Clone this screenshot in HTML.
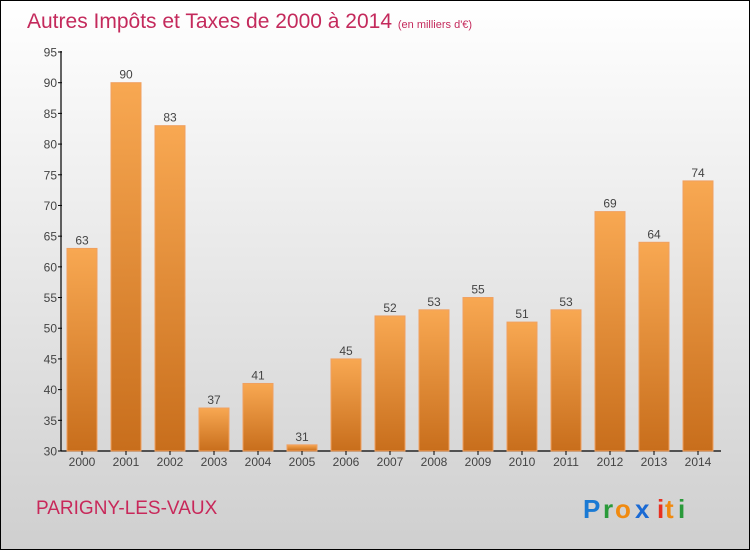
<!DOCTYPE html>
<html><head><meta charset="utf-8"><style>
body{margin:0}
#c{position:relative;width:748px;height:548px;border:1px solid #000;background:linear-gradient(#ffffff,#cfcfcf);font-family:"Liberation Sans",sans-serif;overflow:hidden}
</style></head><body>
<div id="c">
<svg id="s" width="748" height="548" style="position:absolute;left:0;top:0">
<defs><linearGradient id="g" x1="0" y1="0" x2="0" y2="1"><stop offset="0" stop-color="#f8a852"/><stop offset="1" stop-color="#c86e1c"/></linearGradient></defs>
<text x="26" y="27" font-size="21" fill="#c42a5c">Autres Impôts et Taxes de 2000 à 2014 <tspan font-size="11">(en milliers d'€)</tspan></text>
<text x="35" y="513" font-size="19" fill="#c8285a">PARIGNY-LES-VAUX</text>
<g font-size="26" font-weight="bold">
<text x="582" y="517" fill="#1a7ad4">P</text><text x="602" y="517" fill="#2a9a3a">r</text><text x="614" y="517" fill="#f08a10">o</text><text x="634" y="517" fill="#1a6ad4">x</text><text x="656" y="517" fill="#e83020">i</text><text x="664" y="517" fill="#f08a10">t</text><text x="677" y="517" fill="#2a9a3a">i</text>
</g>
<g id="plot"></g>
</svg>
</div>
<script>
const years=["2000","2001","2002","2003","2004","2005","2006","2007","2008","2009","2010","2011","2012","2013","2014"];
const values=[63,90,83,37,41,31,45,52,53,55,51,53,69,64,74];
const ticks=[30,35,40,45,50,55,60,65,70,75,80,85,90,95];
const NS="http://www.w3.org/2000/svg";
const p=document.getElementById('plot');
const y=v=>450-(v-30)*399/65;
const x=i=>81+i*44;
function mk(t,a,txt){const e=document.createElementNS(NS,t);for(const k in a)e.setAttribute(k,a[k]);if(txt!=null)e.textContent=txt;p.appendChild(e);return e;}
let ax=mk('line',{x1:60,y1:50,x2:60,y2:450,stroke:'#000','stroke-width':1.2});


let xa=mk('line',{x1:60,y1:450,x2:720,y2:450,stroke:'#000','stroke-width':1.2});


ticks.forEach(t=>{
 let l=mk('line',{x1:57,y1:y(t),x2:61,y2:y(t),stroke:'#000'});
 
 
 let tx=mk('text',{x:56,y:y(t)+4.5,'text-anchor':'end','font-size':12,fill:'#444'},t);
 
 
});
values.forEach((v,i)=>{
 let r=mk('rect',{x:x(i)-15,y:y(v),width:30,height:450-y(v),fill:'url(#g)',stroke:'#f0a060','stroke-width':1});
 
 
 let vl=mk('text',{x:x(i),y:y(v)-4,'text-anchor':'middle','font-size':12,fill:'#444'},v);
 
 
 let tk=mk('line',{x1:x(i),y1:450,x2:x(i),y2:454,stroke:'#000'});
 
 
 let xl=mk('text',{x:x(i),y:465,'text-anchor':'middle','font-size':12,fill:'#444'},years[i]);
 
 
});
</script>
</body></html>
